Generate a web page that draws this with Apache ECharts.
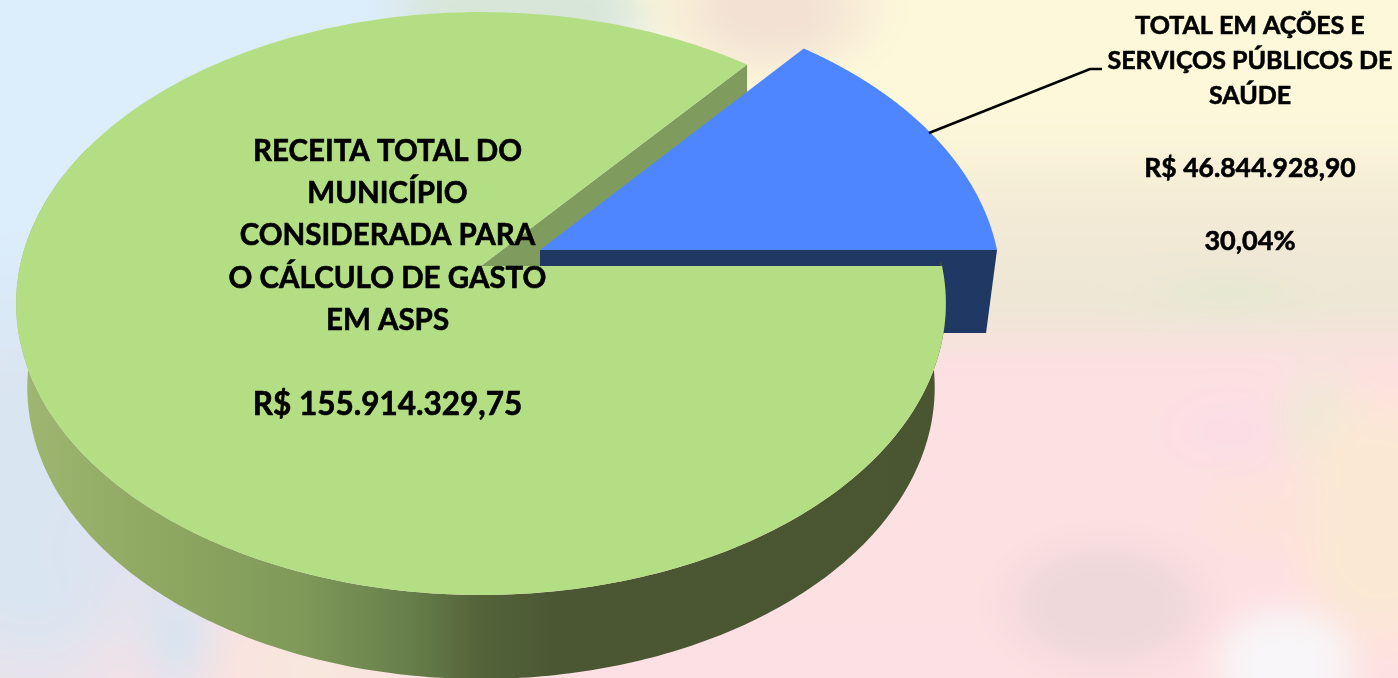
<!DOCTYPE html>
<html>
<head>
<meta charset="utf-8">
<script src="https://cdn.jsdelivr.net/npm/echarts@6/dist/echarts.min.js"></script>
<style>
html,body{margin:0;padding:0;width:1398px;height:678px;overflow:hidden;background:#fbeee6;}
#bg{position:absolute;left:-60px;top:-60px;width:1518px;height:798px;filter:blur(12px);
background:
radial-gradient(ellipse 85px 70px at 1345px 725px,#f8f6f8 0%,#f8f6f8 55%,rgba(248,246,248,0) 100%),
radial-gradient(ellipse 125px 80px at 1165px 665px,#eed8da 0%,#eed8da 50%,rgba(238,216,218,0) 100%),
radial-gradient(ellipse 90px 60px at 1320px 575px,#fbe3d8 0%,rgba(251,227,216,0) 100%),
radial-gradient(ellipse 110px 160px at 1440px 580px,#fbe8d4 0%,#fbe8d4 50%,rgba(251,232,212,0) 100%),
radial-gradient(ellipse 60px 70px at 1380px 480px,#ebebd4 0%,rgba(235,235,212,0) 100%),
radial-gradient(ellipse 80px 50px at 1290px 490px,#fcdce8 0%,rgba(252,220,232,0) 100%),
radial-gradient(ellipse 110px 30px at 1285px 355px,#e2e9d0 0%,rgba(226,233,208,0) 100%),
radial-gradient(ellipse 130px 80px at 830px 70px,#f3e2d4 0%,#f3e2d4 40%,rgba(243,226,212,0) 100%),
radial-gradient(ellipse 150px 60px at 580px 70px,#d8e6da 0%,#d8e6da 60%,rgba(216,230,218,0) 100%),
radial-gradient(ellipse 130px 100px at 370px 730px,#f6e8dc 0%,rgba(246,232,220,0) 100%),
radial-gradient(ellipse 60px 90px at 240px 700px,#d4e4f2 0%,rgba(212,228,242,0) 100%),
radial-gradient(ellipse 130px 100px at 220px 610px,#dfe2f0 0%,rgba(223,226,240,0) 100%),
radial-gradient(ellipse 180px 280px at 90px 560px,#d9e5f1 0%,#d9e5f1 40%,rgba(217,229,241,0) 100%),
radial-gradient(ellipse 560px 320px at 200px 180px,#dcedfc 0%,#dcedfc 75%,rgba(220,237,252,0) 100%),
linear-gradient(180deg,#fdf8da 0%,#fdf8da 22%,#f2e9d6 36%,#eee7d6 46%,#fde0e2 54%,#fde0e3 100%);}
#main{position:absolute;left:0;top:0;width:1398px;height:678px;}
</style>
</head>
<body>
<div id="bg"></div>
<div id="main"></div>
<script>
// Slice shares as drawn in the picture (percent of the pie)
var sliceNames = ['TOTAL EM AÇÕES E SERVIÇOS PÚBLICOS DE SAÚDE', 'RECEITA TOTAL DO MUNICÍPIO'];
var sliceShares = [14.06, 85.94];
var topColors = ['#4d86ff', '#b4de84'];
var greenLabel = ['RECEITA TOTAL DO', 'MUNICÍPIO', 'CONSIDERADA PARA', 'O CÁLCULO DE GASTO', 'EM ASPS', '', 'R$ 155.914.329,75'];
var blueLabel = ['TOTAL EM AÇÕES E', 'SERVIÇOS PÚBLICOS DE', 'SAÚDE', '', 'R$ 46.844.928,90', '', '30,04%'];

var centers = [[540, 250, 457], [481, 266, 461]];
var S = 286.6, K = 0.1287, DEPTH = 84, BOTTOM_X = 0.976;
var theta = sliceShares[0] / 100 * 2 * Math.PI;

function pt(c, t, depth, sx) {
  var u = Math.cos(t), v = Math.sin(t), w = 1 - K * v;
  return [c[0] + c[2] * sx * u / w, c[1] + depth + S * v / w];
}
function arc(c, a, b, depth, sx) {
  var out = [], n = 260;
  for (var i = 0; i <= n; i++) out.push(pt(c, a + (b - a) * i / n, depth, sx));
  return out;
}
var rimFill = new echarts.graphic.LinearGradient(17, 0, 945, 0, [
  {offset: 0, color: '#9fb770'}, {offset: 0.14, color: '#90a962'},
  {offset: 0.3, color: '#7f9a59'}, {offset: 0.42, color: '#67804b'},
  {offset: 0.5, color: '#54633a'}, {offset: 0.58, color: '#4b5733'},
  {offset: 1, color: '#4a5632'}], true);

function renderCut(params, api) {
  var c = centers[1], tip = pt(c, -theta, 0, 1);
  return {type: 'polygon', shape: {points: [[c[0], c[1]], tip, [tip[0], tip[1] + DEPTH], [c[0], c[1] + DEPTH]]},
    style: {fill: '#7f9c5e'}};
}
function renderSlice(params, api) {
  var i = params.dataIndex, c = centers[i], kids = [];
  if (i === 0) {
    var right = pt(c, 0, 0, 1), rb = pt(c, 0, DEPTH - 1, BOTTOM_X);
    kids.push({type: 'polygon', shape: {points: [[c[0], c[1]], right, rb, [c[0], rb[1]]]}, style: {fill: '#1f3864'}});
    kids.push({type: 'polygon', shape: {points: [[c[0], c[1]]].concat(arc(c, -theta, 0, 0, 1))}, style: {fill: topColors[0]}});
  } else {
    var a = -0.02, b = Math.PI + 0.45;
    var pts = arc(c, a, b, 0, 1).concat(arc(c, a, b, DEPTH, BOTTOM_X).reverse());
    kids.push({type: 'polygon', shape: {points: pts}, style: {fill: rimFill}});
    kids.push({type: 'polygon', shape: {points: [[c[0], c[1]]].concat(arc(c, 0, 2 * Math.PI - theta, 0, 1))}, style: {fill: topColors[1]}});
  }
  return {type: 'group', children: kids};
}
function textEls(lines, x, ys, sizes) {
  return lines.map(function (s, i) {
    return {type: 'text', style: {text: s, x: x, y: ys[i], fill: '#000', align: 'center', verticalAlign: 'middle',
      stroke: '#000', lineWidth: 0.6,
      font: 'bold ' + sizes[i] + 'px Lato, "Open Sans", sans-serif'}};
  });
}
function renderLabels() {
  var kids = textEls(greenLabel, 387.5, [151, 193, 235, 278, 320, 361, 405], [29.5, 29.5, 29.5, 29.5, 29.5, 29.5, 31.5])
    .concat(textEls(blueLabel, 1250, [26, 61, 96, 132, 168, 204, 241], [25, 25, 25, 25, 26.5, 25, 27]));
  kids.push({type: 'polyline', shape: {points: [[929, 133], [1090, 69], [1102, 69]]},
    style: {stroke: '#000', lineWidth: 2.6, fill: null}});
  return {type: 'group', children: kids};
}
var chart = echarts.init(document.getElementById('main'), null, {renderer: 'canvas'});
chart.setOption({
  backgroundColor: 'transparent',
  animation: false,
  series: [
    {type: 'custom', coordinateSystem: 'none', z: 1, silent: true, data: [sliceShares[1]], renderItem: renderCut},
    {type: 'custom', coordinateSystem: 'none', z: 2, silent: true,
      data: sliceShares.map(function (v, i) { return {name: sliceNames[i], value: v}; }), renderItem: renderSlice},
    {type: 'custom', coordinateSystem: 'none', z: 3, silent: true, data: [0], renderItem: renderLabels}
  ]
});
</script>
</body>
</html>
